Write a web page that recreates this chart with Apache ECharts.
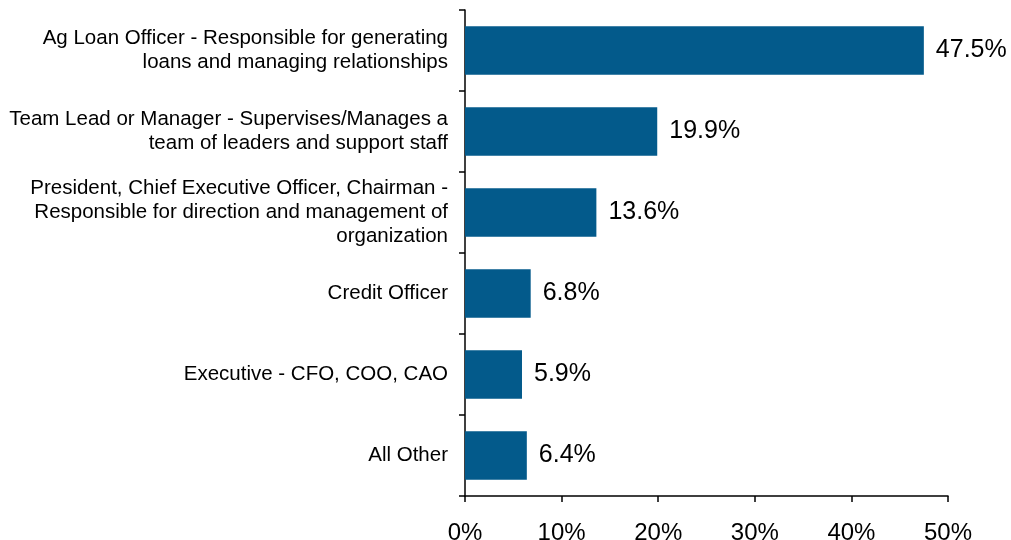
<!DOCTYPE html>
<html>
<head>
<meta charset="utf-8">
<script src="https://cdn.jsdelivr.net/npm/echarts@6/dist/echarts.min.js"></script>
<style>
  html, body { margin: 0; padding: 0; background: #fff; }
  #chart_main { width: 1011px; height: 540px; }
</style>
</head>
<body>
<div id="chart_main"></div>
<script>
var categories = [
    'Ag Loan Officer - Responsible for generating\nloans and managing relationships',
    'Team Lead or Manager - Supervises/Manages a\nteam of leaders and support staff',
    'President, Chief Executive Officer, Chairman -\nResponsible for direction and management of\norganization',
    'Credit Officer',
    'Executive - CFO, COO, CAO',
    'All Other'
];
var values = [47.5, 19.9, 13.6, 6.8, 5.9, 6.4];
var xTicks = [0, 10, 20, 30, 40, 50];

var myChart = echarts.init(document.getElementById('chart_main'));
var option = {
    animation: false,
    textStyle: { fontFamily: 'Liberation Sans, Arial, sans-serif' },
    grid: { left: 465, right: 63, top: 10, bottom: 44, outerBoundsMode: 'none', containLabel: false },
    xAxis: {
        type: 'value',
        min: xTicks[0],
        max: xTicks[xTicks.length - 1],
        interval: 10,
        axisLine: { show: true, lineStyle: { color: '#000', width: 1.5 } },
        axisTick: { show: true, length: 6, lineStyle: { color: '#000', width: 1.5 } },
        axisLabel: { formatter: '{value}%', fontSize: 24, color: '#000', margin: 25 },
        splitLine: { show: false }
    },
    yAxis: {
        type: 'category',
        inverse: true,
        data: categories,
        axisLine: { show: true, lineStyle: { color: '#000', width: 1.5 } },
        axisTick: { show: true, length: 6, lineStyle: { color: '#000', width: 1.5 } },
        axisLabel: { fontSize: 20.5, color: '#000', margin: 17, lineHeight: 24, align: 'right' }
    },
    series: [{
        type: 'bar',
        data: values,
        barWidth: '60%',
        itemStyle: { color: '#035A8B' },
        label: {
            show: true,
            position: 'right',
            distance: 12,
            fontSize: 25,
            color: '#000',
            formatter: function (p) { return p.value.toFixed(1) + '%'; }
        }
    }]
};
myChart.setOption(option);
</script>
</body>
</html>
